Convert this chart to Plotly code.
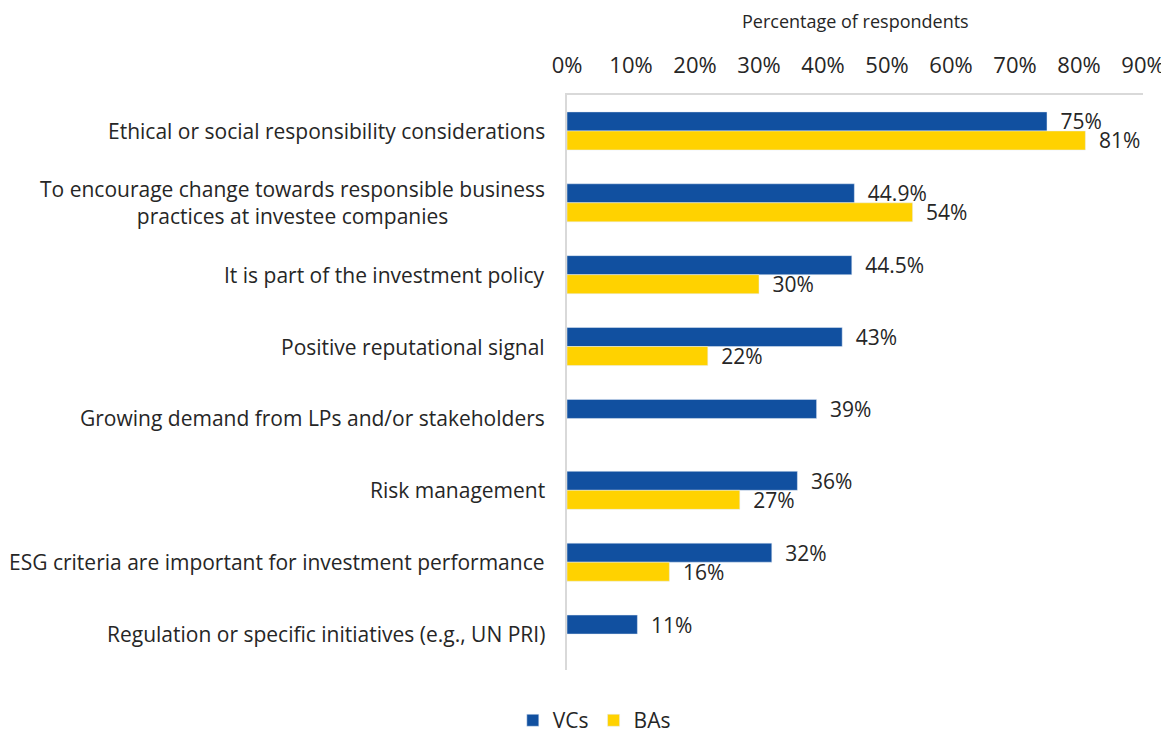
import plotly.graph_objects as go

categories = [
    "Ethical or social responsibility considerations",
    "To encourage change towards responsible business<br>practices at investee companies",
    "It is part of the investment policy",
    "Positive reputational signal",
    "Growing demand from LPs and/or stakeholders",
    "Risk management",
    "ESG criteria are important for investment performance",
    "Regulation or specific initiatives (e.g., UN PRI)",
]
vc_values = [75, 44.9, 44.5, 43, 39, 36, 32, 11]
ba_values = [81, 54, 30, 22, None, 27, 16, None]
tick_vals = [0, 10, 20, 30, 40, 50, 60, 70, 80, 90]
tick_text = [f"{v}%" for v in tick_vals]
axis_title = "Percentage of respondents"

FONT = "Open Sans"
TXT = "#262626"
FS_CAT = 21
FS_LBL = 21
FS_TICK = 22

def fmt(v):
    if v is None:
        return ""
    return f"\u2002{v:g}%"

fig = go.Figure()
fig.add_trace(go.Bar(
    y=categories, x=vc_values, name="VCs", orientation="h",
    marker=dict(color="#1150A0"),
    text=[fmt(v) for v in vc_values], textposition="outside",
    constraintext="none",
    textfont=dict(size=FS_LBL, color=TXT, family=FONT), cliponaxis=False,
))
fig.add_trace(go.Bar(
    y=categories, x=ba_values, name="BAs", orientation="h",
    marker=dict(color="#FFD200"),
    text=[fmt(v) for v in ba_values], textposition="outside",
    constraintext="none",
    textfont=dict(size=FS_LBL, color=TXT, family=FONT), cliponaxis=False,
))

for c in categories:
    fig.add_annotation(
        x=0, xref="paper", y=c, yref="y", text=c, showarrow=False,
        xanchor="right", xshift=-20, align="center",
        font=dict(size=FS_CAT, color=TXT, family=FONT),
    )

# axis title placed above the top tick labels
fig.add_annotation(
    x=0.5, xref="paper", y=1.0, yref="paper", yshift=74, yanchor="middle",
    text=axis_title, showarrow=False,
    font=dict(size=18, color=TXT, family=FONT),
)

# the page body adds an 8px margin, so the figure is sized to compensate
fig.update_layout(
    width=1161, height=727,
    margin=dict(l=559, r=26, t=87, b=65, autoexpand=False),
    paper_bgcolor="white", plot_bgcolor="white",
    barmode="group", bargap=0.47, bargroupgap=0,
    font=dict(family=FONT, color=TXT, size=FS_CAT),
    showlegend=True,
    legend=dict(
        orientation="h", xref="container", x=0.505, xanchor="center",
        yref="paper", y=-0.088, yanchor="middle",
        font=dict(size=FS_CAT, color=TXT, family=FONT), traceorder="normal",
        itemwidth=30, tracegroupgap=0,
    ),
    xaxis=dict(
        side="top", range=[0, 90], tickvals=tick_vals, ticktext=tick_text,
        showgrid=False, zeroline=False, showline=True, linecolor="#d9d9d9",
        linewidth=2, ticks="", ticklabelstandoff=11, ticklabeloverflow="allow",
        tickfont=dict(size=FS_TICK, color=TXT, family=FONT),
    ),
    yaxis=dict(
        autorange="reversed", showticklabels=False, showgrid=False,
        zeroline=False, showline=True, linecolor="#d9d9d9", linewidth=2,
        ticks="",
    ),
)

fig.write_html("out.html")
